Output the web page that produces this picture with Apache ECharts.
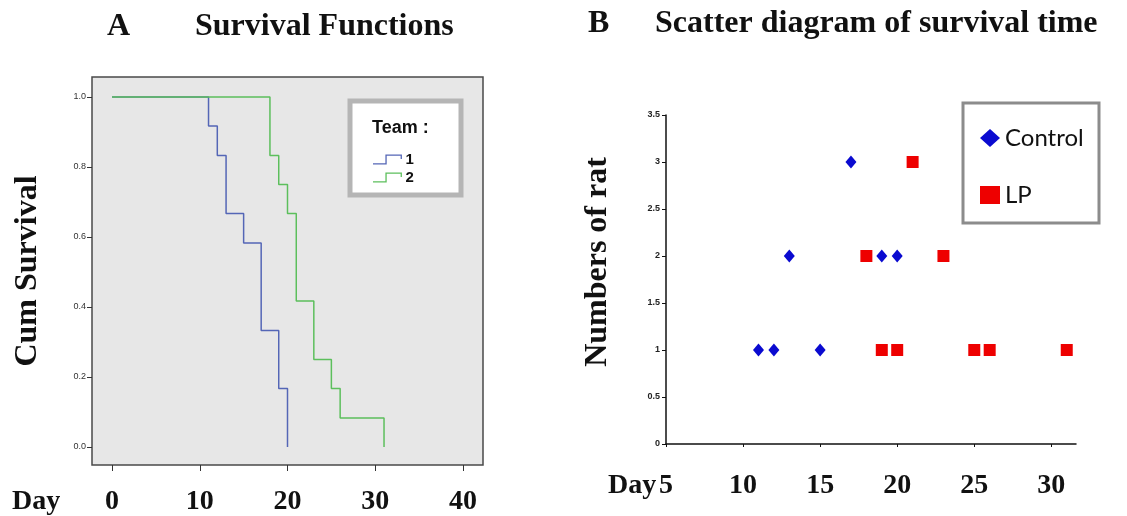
<!DOCTYPE html>
<html>
<head>
<meta charset="utf-8">
<script src="https://cdn.jsdelivr.net/npm/echarts@6/dist/echarts.min.js"></script>
<style>
html, body { margin: 0; padding: 0; background: #fff; }
#chart { width: 1127px; height: 516px; }
</style>
</head>
<body>
<div id="chart"></div>
<script>
// A - survival functions (step points: day, cum survival)
var team1Days = [0, 11, 12, 13, 15, 17, 19, 20]
var team1Surv = [1, 0.917, 0.833, 0.667, 0.583, 0.333, 0.167, 0]
var team2Days = [0, 18, 19, 20, 21, 23, 25, 26, 31]
var team2Surv = [1, 0.833, 0.75, 0.667, 0.417, 0.25, 0.167, 0.083, 0]
var dayTicksA = [0, 10, 20, 30, 40]
var survTicks = [0, 0.2, 0.4, 0.6, 0.8, 1.0]

// B - scatter of survival time (day, number of rats)
var controlDays = [11, 12, 13, 15, 17, 19, 20]
var controlRats = [1, 1, 2, 1, 3, 2, 2]
var lpDays = [18, 19, 20, 21, 23, 25, 26, 31]
var lpRats = [2, 1, 1, 3, 2, 1, 1, 1]
var dayTicksB = [5, 10, 15, 20, 25, 30]

var serif = '"Liberation Serif", "Times New Roman", serif'
var blue = '#5466b6'
var green = '#5cbf5c'
// little step line used as legend icon in panel A
var stepIcon = 'path://M0,8.4 L11.4,8.4 L11.4,0.4 L26.6,0.4 L26.6,4.5 L25.4,4.5 L25.4,1.6 L12.6,1.6 L12.6,9.6 L0,9.6 Z'

function pairs(xs, ys) {
  return xs.map(function (x, i) { return [x, ys[i]] })
}

function bigText(x, y, text, opt) {
  opt = opt || {}
  return {
    type: 'text', x: x, y: y, z: 30,
    rotation: opt.rotation || 0,
    style: {
      text: text,
      fontFamily: serif,
      fontWeight: 'bold',
      fontSize: opt.size || 32,
      fill: '#111',
      textAlign: opt.align || 'left',
      textVerticalAlign: 'middle'
    }
  }
}

var chart = echarts.init(document.getElementById('chart'))

var option = {
  backgroundColor: '#fff',
  animation: false,
  grid: [
    {
      left: 92, top: 77, width: 391, height: 388,
      show: true, backgroundColor: '#e7e7e7',
      borderColor: '#4a4a4a', borderWidth: 1.5
    },
    { left: 666, top: 115, width: 410, height: 329 }
  ],
  xAxis: [
    {
      gridIndex: 0, type: 'value', min: -2.28, max: 42.28,
      axisLine: { show: false, onZero: false },
      axisTick: { show: true, customValues: dayTicksA, length: 6, lineStyle: { color: '#333' } },
      axisLabel: {
        customValues: dayTicksA, margin: 23,
        fontFamily: serif, fontWeight: 'bold', fontSize: 28, color: '#111'
      },
      splitLine: { show: false }
    },
    {
      gridIndex: 1, type: 'value', min: 5, max: 31.6,
      axisLine: { show: true, onZero: false, lineStyle: { color: '#111', width: 1.5 } },
      axisTick: { show: true, customValues: dayTicksB, length: 3, lineStyle: { color: '#111' } },
      axisLabel: {
        customValues: dayTicksB, margin: 28,
        fontFamily: serif, fontWeight: 'bold', fontSize: 28, color: '#111'
      },
      splitLine: { show: false }
    }
  ],
  yAxis: [
    {
      gridIndex: 0, type: 'value', min: -0.0514, max: 1.057,
      axisLine: { show: false, onZero: false },
      axisTick: { show: true, customValues: survTicks, length: 5, lineStyle: { color: '#333' } },
      axisLabel: {
        customValues: survTicks, margin: 6,
        fontSize: 9, color: '#333', fontFamily: 'Liberation Sans',
        formatter: function (v) { return v.toFixed(1) }
      },
      splitLine: { show: false }
    },
    {
      gridIndex: 1, type: 'value', min: 0, max: 3.5, interval: 0.5,
      axisLine: { show: true, onZero: false, lineStyle: { color: '#111', width: 1.5 } },
      axisTick: { show: true, length: 4, lineStyle: { color: '#111' } },
      axisLabel: {
        margin: 6, fontSize: 9, fontWeight: 'bold', color: '#222',
        fontFamily: 'Liberation Sans'
      },
      splitLine: { show: false }
    }
  ],
  legend: [
    {
      data: [{ name: '1', icon: stepIcon }, { name: '2', icon: stepIcon }],
      orient: 'vertical', left: 368, top: 147,
      itemWidth: 34, itemHeight: 10, itemGap: 3,
      selectedMode: false, z: 40,
      textStyle: {
        fontFamily: 'Liberation Sans', fontWeight: 'bold', fontSize: 15,
        color: '#111', padding: [0, 0, 0, -4]
      }
    },
    {
      data: [{ name: 'Control', icon: 'diamond' }, { name: 'LP', icon: 'rect' }],
      orient: 'vertical', left: 975, top: 121,
      itemWidth: 20, itemHeight: 18, itemGap: 33,
      selectedMode: false, z: 40,
      textStyle: { fontFamily: 'Lato', fontSize: 24, color: '#111' }
    }
  ],
  graphic: {
    elements: [
      bigText(107, 27, 'A'),
      bigText(195, 27, 'Survival Functions'),
      bigText(588, 24, 'B'),
      bigText(655, 24, 'Scatter diagram of survival time'),
      bigText(28, 271, 'Cum Survival', { rotation: Math.PI / 2, align: 'center' }),
      bigText(598, 262, 'Numbers of rat', { rotation: Math.PI / 2, align: 'center' }),
      bigText(12, 502, 'Day', { size: 28 }),
      bigText(608, 486, 'Day', { size: 28 }),
      {
        type: 'rect', z: 30,
        shape: { x: 350, y: 101, width: 111, height: 94 },
        style: { fill: '#fff', stroke: '#b5b5b5', lineWidth: 5 }
      },
      {
        type: 'text', x: 372, y: 128, z: 35,
        style: {
          text: 'Team :', fontFamily: 'Liberation Sans', fontWeight: 'bold',
          fontSize: 18, fill: '#111', textVerticalAlign: 'middle'
        }
      },
      {
        type: 'rect', z: 30,
        shape: { x: 963, y: 103, width: 136, height: 120 },
        style: { fill: '#fff', stroke: '#8c8c8c', lineWidth: 3 }
      }
    ]
  },
  series: [
    {
      name: '1', type: 'line', step: 'end', xAxisIndex: 0, yAxisIndex: 0,
      data: pairs(team1Days, team1Surv), showSymbol: false,
      lineStyle: { color: blue, width: 1.5 }, itemStyle: { color: blue }
    },
    {
      name: '2', type: 'line', step: 'end', xAxisIndex: 0, yAxisIndex: 0,
      data: pairs(team2Days, team2Surv), showSymbol: false,
      lineStyle: { color: green, width: 1.5 }, itemStyle: { color: green }
    },
    {
      name: 'Control', type: 'scatter', xAxisIndex: 1, yAxisIndex: 1,
      data: pairs(controlDays, controlRats),
      symbol: 'diamond', symbolSize: [11, 13],
      itemStyle: { color: '#0a0ad0', opacity: 1 }
    },
    {
      name: 'LP', type: 'scatter', xAxisIndex: 1, yAxisIndex: 1,
      data: pairs(lpDays, lpRats),
      symbol: 'rect', symbolSize: 12,
      itemStyle: { color: '#ee0000', opacity: 1 }
    }
  ]
}

chart.setOption(option)
</script>
</body>
</html>
